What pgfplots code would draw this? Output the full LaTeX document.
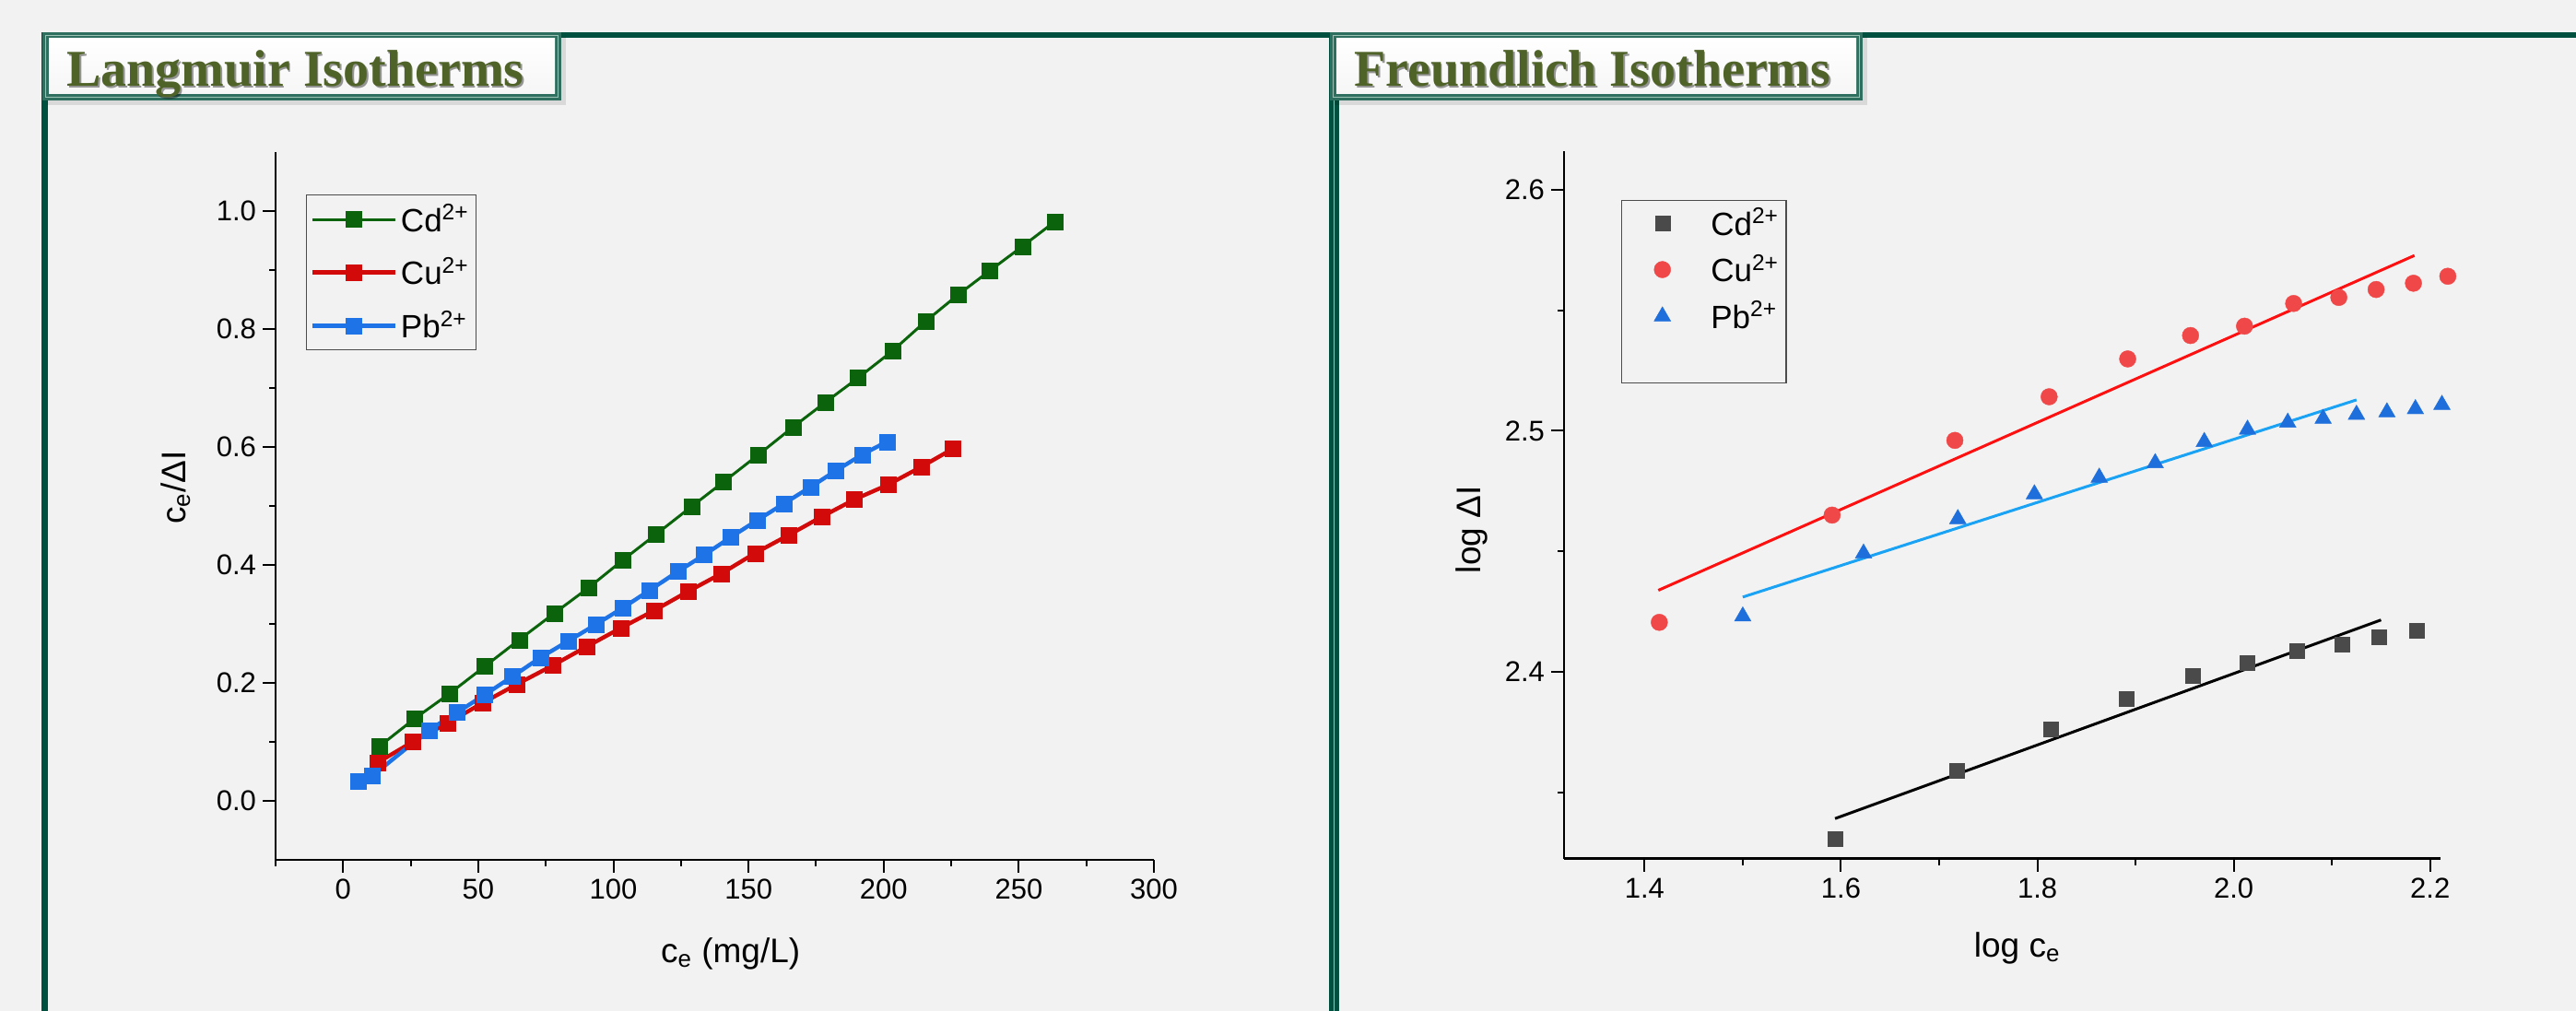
\documentclass[border=0pt]{standalone}
\usepackage{pgfplots}
\pgfplotsset{compat=1.18}
\usepackage{fontspec}
\setmainfont{Liberation Sans}
\newfontfamily\titlefont{Liberation Serif}
\definecolor{bgc}{HTML}{F2F2F2}
\definecolor{framec}{HTML}{00503F}
\definecolor{boxedge}{HTML}{2F6F5F}
\definecolor{boxlight}{HTML}{9CC2B5}
\definecolor{olivec}{HTML}{4F6228}
\definecolor{cdg}{HTML}{0B640B}
\definecolor{cur}{HTML}{D20A0A}
\definecolor{pbb}{HTML}{1E73E6}
\definecolor{cdk}{HTML}{4A4A4A}
\definecolor{curb}{HTML}{F04848}
\definecolor{pbbb}{HTML}{1E6FDC}
\definecolor{fitb}{HTML}{1AA3F5}
\definecolor{fitr}{HTML}{FF1010}

\newcommand{\labfont}{\fontsize{18.5pt}{20pt}\selectfont}
\pgfplotsset{
  myaxis/.style={
    scale only axis, anchor=south west,
    axis x line*=bottom, axis y line*=left,
    axis line style={-, line width=1.4pt, black},
    tick align=outside,
    major tick length=7pt, minor tick length=3.5pt,
    tick style={black, line width=1pt},
    tick label style={font=\fontsize{15.5pt}{17pt}\selectfont},
    /pgf/number format/assume math mode=true,
    clip=false,
    legend cell align=left,
  },
}

\begin{document}
\begin{tikzpicture}
% background
\fill[bgc] (0pt,0pt) rectangle (1397.5pt,-548.5pt);
% frame lines
\fill[framec] (23pt,-17.5pt) rectangle (1397.5pt,-20.5pt);
\fill[framec] (22.5pt,-17.5pt) rectangle (26pt,-548.5pt);
\fill[framec] (721pt,-17.5pt) rectangle (726.5pt,-548.5pt);
\fill[boxlight] (723.6pt,-27pt) rectangle (724.1pt,-548.5pt);

% title boxes
\foreach \xa/\xb in {23/304.5, 721.5/1010.5}{
  \fill[black, opacity=0.10] (\xa pt+2.5pt,-20pt) rectangle (\xb pt+2.5pt,-57pt);
  \fill[boxedge] (\xa pt,-17.5pt) rectangle (\xb pt,-54.5pt);
  \fill[boxlight] (\xa pt+1.3pt,-18.8pt) rectangle (\xb pt-1.3pt,-53.2pt);
  \fill[boxedge] (\xa pt+2pt,-19.5pt) rectangle (\xb pt-2pt,-52.5pt);
  \shade[top color=white, bottom color=bgc!70!white] (\xa pt+3.5pt,-21pt) rectangle (\xb pt-3.5pt,-51pt);
}
\node[anchor=base west, inner sep=0pt, text=black, opacity=0.4] at (36.8pt,-47.8pt) {\titlefont\bfseries\fontsize{28pt}{30pt}\selectfont Langmuir Isotherms};
\node[anchor=base west, inner sep=0pt, text=olivec] at (36pt,-47pt) {\titlefont\bfseries\fontsize{28pt}{30pt}\selectfont Langmuir Isotherms};
\node[anchor=base west, inner sep=0pt, text=black, opacity=0.4] at (735.3pt,-47.8pt) {\titlefont\bfseries\fontsize{28pt}{30pt}\selectfont Freundlich Isotherms};
\node[anchor=base west, inner sep=0pt, text=olivec] at (734.5pt,-47pt) {\titlefont\bfseries\fontsize{28pt}{30pt}\selectfont Freundlich Isotherms};

% ---------------- Langmuir ----------------
\begin{axis}[myaxis, at={(149.5pt,-466.5pt)}, width=476.5pt, height=384pt,
  xmin=-25, xmax=300, ymin=-0.1, ymax=1.1,
  xtick={0,50,100,150,200,250,300}, minor xtick={-25,25,75,125,175,225,275},
  ytick={0,0.2,0.4,0.6,0.8,1.0}, minor ytick={0.1,0.3,0.5,0.7,0.9},
  yticklabel style={/pgf/number format/fixed, /pgf/number format/fixed zerofill, /pgf/number format/precision=1},
  xlabel={c\textsubscript{e} (mg/L)}, ylabel={c\textsubscript{e}/ΔI},
  every axis x label/.style={at={(axis description cs:0.518,-0.133)}, anchor=center, font=\labfont},
  every axis y label/.style={at={(axis description cs:-0.114,0.526)}, rotate=90, anchor=center, font=\labfont},
  legend style={at={(axis description cs:0.0346,0.940)}, anchor=north west, draw=black!70, line width=0.6pt, fill=none,
    font=\fontsize{17.5pt}{19pt}\selectfont, inner xsep=2pt, inner ysep=3pt, row sep=8.5pt},
  legend image code/.code={\draw[mark repeat=2, mark phase=2, #1] plot coordinates {(0pt,0pt) (22.5pt,0pt) (45pt,0pt)};},
]
\addplot[cdg, line width=1.5pt, mark=square*, mark size=4.25pt, mark options={solid, fill=cdg, draw=cdg, line width=0.2pt}] coordinates {
(13.3,0.092) (26.3,0.139) (39.4,0.182) (52.4,0.228) (65.1,0.273) (78.1,0.318) (91.0,0.362) (103.4,0.408) (115.8,0.452) (128.9,0.499) (140.8,0.541) (153.7,0.587) (166.5,0.634) (178.5,0.676) (190.5,0.717) (203.3,0.763) (215.5,0.813) (227.5,0.858) (239.3,0.899) (251.3,0.940) (263.3,0.982)};
\addlegendentry{Cd\textsuperscript{2+}}
\addplot[cur, line width=2.2pt, mark=square*, mark size=4.25pt, mark options={solid, fill=cur, draw=cur, line width=0.2pt}] coordinates {
(12.8,0.065) (25.7,0.100) (38.7,0.132) (51.6,0.166) (64.4,0.198) (77.7,0.230) (90.3,0.262) (102.7,0.293) (115.2,0.323) (127.6,0.355) (139.8,0.385) (152.4,0.420) (165.0,0.451) (177.2,0.482) (189.2,0.511) (201.6,0.536) (213.8,0.566) (225.6,0.597)};
\addlegendentry{Cu\textsuperscript{2+}}
\addplot[pbb, line width=2.2pt, mark=square*, mark size=4.25pt, mark options={solid, fill=pbb, draw=pbb, line width=0.2pt}] coordinates {
(5.6,0.033) (10.7,0.042) (31.7,0.120) (42.2,0.150) (52.4,0.180) (62.7,0.211) (73.0,0.243) (83.3,0.271) (93.5,0.299) (103.4,0.327) (113.4,0.357) (123.9,0.389) (133.6,0.417) (143.4,0.447) (153.3,0.476) (163.1,0.504) (172.9,0.532) (182.4,0.560) (192.0,0.587) (201.2,0.609)};
\addlegendentry{Pb\textsuperscript{2+}}
\end{axis}

% ---------------- Freundlich ----------------
\begin{axis}[myaxis, at={(848.5pt,-465.8pt)}, width=475.5pt, height=383.8pt,
  xmin=1.318, xmax=2.2106, ymin=2.3225, ymax=2.616,
  xtick={1.4,1.6,1.8,2.0,2.2}, minor xtick={1.5,1.7,1.9,2.1},
  ytick={2.4,2.5,2.6}, minor ytick={2.35,2.45,2.55},
  ticklabel style={/pgf/number format/fixed, /pgf/number format/fixed zerofill, /pgf/number format/precision=1},
  xlabel={log c\textsubscript{e}}, ylabel={log ΔI},
  every axis x label/.style={at={(axis description cs:0.517,-0.127)}, anchor=center, font=\labfont},
  every axis y label/.style={at={(axis description cs:-0.105,0.465)}, rotate=90, anchor=center, font=\labfont},
  legend style={at={(axis description cs:0.0647,0.931)}, anchor=north west, draw=black!70, line width=0.6pt, fill=none,
    font=\fontsize{17.5pt}{19pt}\selectfont, inner xsep=2pt, inner ysep=2pt, row sep=5pt},
  legend image code/.code={\path (0pt,0pt) (44pt,0pt); \draw[#1] plot coordinates {(20pt,0pt)};},
]
\addplot[only marks, mark=square*, mark size=4pt, mark options={fill=cdk, draw=cdk, line width=0.2pt}] coordinates {
(1.594,2.3307) (1.718,2.359) (1.814,2.3762) (1.891,2.3887) (1.958,2.3984) (2.014,2.4037) (2.064,2.4088) (2.110,2.4113) (2.148,2.4146) (2.186,2.417)};
\addlegendentry{Cd\textsuperscript{2+}}
\addplot[only marks, mark=*, mark size=4.5pt, mark options={fill=curb, draw=curb, line width=0.2pt}] coordinates {
(1.415,2.4205) (1.591,2.465) (1.716,2.496) (1.812,2.5141) (1.892,2.5298) (1.956,2.5395) (2.011,2.5434) (2.061,2.5528) (2.107,2.5553) (2.145,2.5586) (2.183,2.5612) (2.218,2.5641)};
\addlegendentry{Cu\textsuperscript{2+}}
\addplot[only marks, mark=triangle*, mark size=5.2pt, mark options={fill=pbbb, draw=pbbb, line width=0.2pt}] coordinates {
(1.500,2.423) (1.623,2.4491) (1.719,2.4634) (1.797,2.4737) (1.863,2.4806) (1.920,2.4866) (1.970,2.4954) (2.014,2.5005) (2.055,2.5034) (2.091,2.505) (2.125,2.5067) (2.156,2.5077) (2.185,2.5090) (2.212,2.5108)};
\addlegendentry{Pb\textsuperscript{2+}}
\addlegendimage{empty legend}
\addlegendentry{\strut}
\addplot[forget plot, fitr, line width=1.5pt] coordinates {(1.414,2.4338) (2.184,2.5727)};
\addplot[forget plot, fitb, line width=1.5pt] coordinates {(1.500,2.431) (2.125,2.5128)};
\addplot[forget plot, black, line width=1.5pt] coordinates {(1.594,2.3391) (2.150,2.4215)};
\end{axis}

\pgfresetboundingbox
\path[use as bounding box] (0pt,0pt) rectangle (1397.5pt,-548.5pt);
\end{tikzpicture}
\end{document}
